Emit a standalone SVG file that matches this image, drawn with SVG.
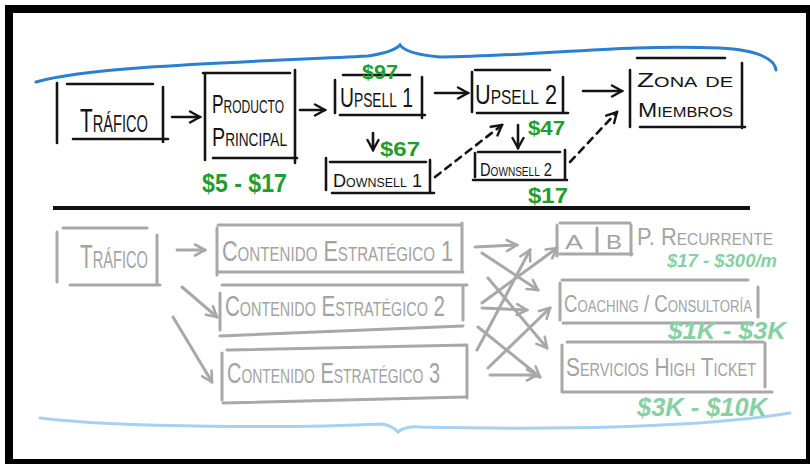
<svg xmlns="http://www.w3.org/2000/svg" width="810" height="464" viewBox="0 0 810 464">
<style>
.k{stroke:#141414;stroke-width:2.6;fill:none;stroke-linecap:round}
.g{stroke:#a8a8a8;stroke-width:3;fill:none;stroke-linecap:round}
.kd{stroke-dasharray:7 6}
text{font-family:"Liberation Sans",Arial,sans-serif;font-variant:small-caps}
.tk{fill:#141414}
.tg{fill:#a3a3a3}
.gr{fill:#1f9d2f;font-weight:bold;font-variant:normal}
.mg{fill:#86d0a3;font-style:italic;font-weight:bold;font-variant:normal}
</style>
<defs>
<marker id="ak" viewBox="0 0 14 14" refX="12" refY="7" markerWidth="14" markerHeight="14" markerUnits="userSpaceOnUse" orient="auto">
<path d="M2,1.5 L12,7 L2,12.5" fill="none" stroke="#141414" stroke-width="2.4" stroke-linecap="round"/>
</marker>
<marker id="ag" viewBox="0 0 14 14" refX="12" refY="7" markerWidth="14" markerHeight="14" markerUnits="userSpaceOnUse" orient="auto">
<path d="M2,1.5 L12,7 L2,12.5" fill="none" stroke="#a8a8a8" stroke-width="2.6" stroke-linecap="round"/>
</marker>
</defs>
<rect x="0" y="0" width="810" height="464" fill="#ffffff"/>
<rect x="9" y="9" width="801" height="454" fill="none" stroke="#000" stroke-width="8"/>

<!-- braces and separator -->
<path d="M36,82 C90,66 250,62 368,56 Q394,52 400,45 Q406,54 440,57 C540,56 620,44 720,48 C760,50 775,60 776,70" fill="none" stroke="#2a7fd0" stroke-width="3" stroke-linecap="round"/>
<path d="M40,418 C120,428 300,428 382,424 Q393,426 398,432 Q405,426 420,427 C550,430 700,428 790,413" fill="none" stroke="#a6d1f0" stroke-width="3" stroke-linecap="round"/>
<line x1="53" y1="208" x2="750" y2="208" stroke="#111" stroke-width="4"/>

<!-- top nodes -->
<g id="trafico-top">
<path class="k" d="M57,83 V143 M67,84 H153 M163,87 V142 M73,139 H168"/>
<text class="tk" x="80" y="132" font-size="34" textLength="68" lengthAdjust="spacingAndGlyphs">Tráfico</text>
</g>
<g id="producto">
<path class="k" d="M205,73 V160 M203,73 H290 M295,70 V163 M213,158 H297"/>
<text class="tk" x="212" y="113" font-size="26" textLength="72" lengthAdjust="spacingAndGlyphs">Producto</text>
<text class="tk" x="212" y="146" font-size="26" textLength="75" lengthAdjust="spacingAndGlyphs">Principal</text>
<text class="gr" x="202" y="192" font-size="26" textLength="85" lengthAdjust="spacingAndGlyphs">$5 - $17</text>
</g>
<g id="upsell1">
<path class="k" d="M335,80 V113 M343,75 H410 M422,77 V118 M340,115 H425"/>
<text class="tk" x="340" y="107" font-size="28" textLength="73" lengthAdjust="spacingAndGlyphs">Upsell 1</text>
<text class="gr" x="362" y="79" font-size="20" textLength="36" lengthAdjust="spacingAndGlyphs">$97</text>
</g>
<g id="upsell2">
<path class="k" d="M472,72 V112 M475,70 H550 M563,77 V112 M477,113 H568"/>
<text class="tk" x="475" y="104" font-size="28" textLength="82" lengthAdjust="spacingAndGlyphs">Upsell 2</text>
<text class="gr" x="528" y="135" font-size="20" textLength="37" lengthAdjust="spacingAndGlyphs">$47</text>
</g>
<g id="zona">
<path class="k" d="M630,70 V127 M637,58 H725 M742,63 V128 M640,127 H745"/>
<text class="tk" x="637" y="87" font-size="21" textLength="96" lengthAdjust="spacingAndGlyphs">Zona de</text>
<text class="tk" x="638" y="117" font-size="21" textLength="95" lengthAdjust="spacingAndGlyphs">Miembros</text>
</g>
<g id="downsell1">
<path class="k" d="M326,158 V190 M330,162 H426 M430,160 V193 M332,193 H434"/>
<text class="tk" x="333" y="187" font-size="19" textLength="89" lengthAdjust="spacingAndGlyphs">Downsell 1</text>
<text class="gr" x="380" y="156" font-size="21" textLength="40" lengthAdjust="spacingAndGlyphs">$67</text>
</g>
<g id="downsell2">
<path class="k" d="M475,153 V177 M478,152 H560 M565,150 V180 M473,180 H567"/>
<text class="tk" x="480" y="176" font-size="19" textLength="72" lengthAdjust="spacingAndGlyphs">Downsell 2</text>
<text class="gr" x="528" y="203" font-size="22" textLength="40" lengthAdjust="spacingAndGlyphs">$17</text>
</g>

<!-- bottom nodes -->
<g id="trafico-bottom">
<path class="g" d="M57,232 V282 M63,228 H147 M157,235 V285 M70,285 H160"/>
<text class="tg" x="80" y="268" font-size="34" textLength="68" lengthAdjust="spacingAndGlyphs">Tráfico</text>
</g>
<g id="contenido1">
<path class="g" d="M217,228 V275 M218,225 H460 M462,223 V270 M217,272 H463"/>
<text class="tg" x="222" y="261" font-size="30" textLength="231" lengthAdjust="spacingAndGlyphs">Contenido Estratégico 1</text>
</g>
<g id="contenido2">
<path class="g" d="M220,293 V330 M222,285 H467 M463,287 V320 M220,336 L463,326"/>
<text class="tg" x="225" y="316" font-size="30" textLength="220" lengthAdjust="spacingAndGlyphs">Contenido Estratégico 2</text>
</g>
<g id="contenido3">
<path class="g" d="M222,353 V400 M227,350 L467,345 M467,347 V398 M223,403 L465,397"/>
<text class="tg" x="227" y="383" font-size="30" textLength="213" lengthAdjust="spacingAndGlyphs">Contenido Estratégico 3</text>
</g>
<g id="ab">
<path class="g" d="M557,225 V256 M560,223 H630 M631,225 V255 M597,228 V253 M560,254 H632"/>
<text class="tg" x="565" y="249" font-size="21" textLength="18" lengthAdjust="spacingAndGlyphs">A</text>
<text class="tg" x="606" y="249" font-size="21" textLength="16" lengthAdjust="spacingAndGlyphs">B</text>
<text class="tg" x="637" y="245" font-size="24" textLength="136" lengthAdjust="spacingAndGlyphs">P. Recurrente</text>
<text class="mg" x="667" y="267" font-size="19" textLength="110" lengthAdjust="spacingAndGlyphs">$17 - $300/m</text>
</g>
<g id="coaching">
<path class="g" d="M560,283 V320 M562,280 H748 M758,287 V317 M563,323 H753"/>
<text class="tg" x="564" y="312" font-size="24" textLength="188" lengthAdjust="spacingAndGlyphs">Coaching / Consultoría</text>
<text class="mg" x="668" y="339" font-size="24" textLength="118" lengthAdjust="spacingAndGlyphs">$1K - $3K</text>
</g>
<g id="servicios">
<path class="g" d="M562,345 V392 M567,342 H763 M765,343 V387 M562,392 H772"/>
<text class="tg" x="566" y="376" font-size="26" textLength="190" lengthAdjust="spacingAndGlyphs">Servicios High Ticket</text>
<text class="mg" x="637" y="416" font-size="26" textLength="130" lengthAdjust="spacingAndGlyphs">$3K - $10K</text>
</g>

<!-- connectors -->
<g id="connectors">
<path class="k" marker-end="url(#ak)" d="M172,117 H200"/>
<path class="k" marker-end="url(#ak)" d="M300,110 H325"/>
<path class="k" marker-end="url(#ak)" d="M435,93 H468"/>
<path class="k" marker-end="url(#ak)" d="M583,91 H622"/>
<path class="k" marker-end="url(#ak)" d="M373,133 V150"/>
<path class="k" marker-end="url(#ak)" d="M518,125 V148"/>
<path class="k kd" marker-end="url(#ak)" d="M435,177 L502,125"/>
<path class="k kd" marker-end="url(#ak)" d="M570,162 L617,112"/>

<path class="g" marker-end="url(#ag)" d="M177,250 H205"/>
<path class="g" marker-end="url(#ag)" d="M182,287 L217,317"/>
<path class="g" marker-end="url(#ag)" d="M173,317 L212,382"/>

<path class="g" marker-end="url(#ag)" d="M475,247 L517,245"/>
<path class="g" marker-end="url(#ag)" d="M482,253 L538,290"/>
<path class="g" marker-end="url(#ag)" d="M488,278 L547,348"/>
<path class="g" marker-end="url(#ag)" d="M482,303 L557,248"/>
<path class="g" marker-end="url(#ag)" d="M482,308 L527,310"/>
<path class="g" marker-end="url(#ag)" d="M478,327 L540,377"/>
<path class="g" marker-end="url(#ag)" d="M477,350 L530,250"/>
<path class="g" marker-end="url(#ag)" d="M488,368 L550,308"/>
<path class="g" marker-end="url(#ag)" d="M490,375 L537,375"/>
</g>
</svg>
